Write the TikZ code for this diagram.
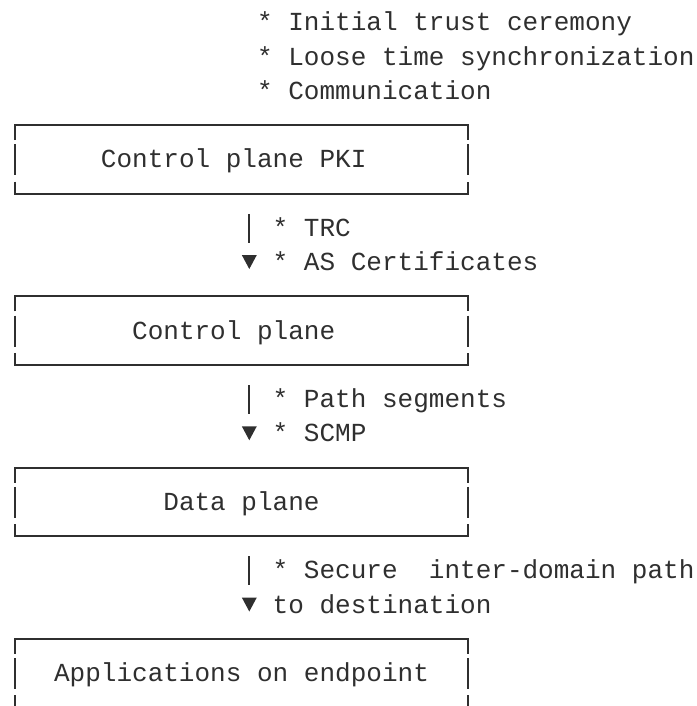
\documentclass[tikz,border=0pt]{standalone}
\usepackage{fontspec}
\newfontfamily\monofam{Liberation Mono}
\definecolor{ink}{HTML}{2F2F2F}
\tikzset{
  txt/.style={anchor=base west, inner sep=0pt, outer sep=0pt, text=ink, font=\monofam\fontsize{26.03}{30}\selectfont},
  edge/.style={draw=ink, line width=2pt, line cap=butt, line join=miter},
  tip/.style={fill=ink}
}
% column left edge and row baseline / centre
\newcommand{\cx}[1]{15+(#1-0.5)*15.62}
\newcommand{\rc}[1]{125+(#1)*34.25}
\newcommand{\rb}[1]{125+(#1)*34.25+8.55}
\begin{document}
\begin{tikzpicture}[x=1pt,y=-1pt]
\useasboundingbox (0,0) rectangle (696,706);
\clip (0,0) rectangle (696,706);
% top notes
\node[txt] (n1) at ({\cx{16}},{\rb{-3}}) {* Initial trust ceremony};
\node[txt] (n2) at ({\cx{16}},{\rb{-2}}) {* Loose time synchronization};
\node[txt] (n3) at ({\cx{16}},{\rb{-1}}) {* Communication};
% boxes
\foreach \t/\nm in {0/b1,5/b2,10/b3,15/b4}{
  \coordinate (\nm tl) at (15,{\rc{\t}});
  \coordinate (\nm tr) at (468,{\rc{\t}});
  \coordinate (\nm bl) at (15,{\rc{\t+2}});
  \coordinate (\nm br) at (468,{\rc{\t+2}});
  \draw[edge] ([yshift=-15pt]\nm tl) -- (\nm tl) -- (\nm tr) -- ([yshift=-15pt]\nm tr);
  \draw[edge] (15,{\rc{\t+1}-15}) -- (15,{\rc{\t+1}+16});
  \draw[edge] (468,{\rc{\t+1}-15}) -- (468,{\rc{\t+1}+16});
  \draw[edge] ([yshift=12pt]\nm bl) -- (\nm bl) -- (\nm br) -- ([yshift=12pt]\nm br);
}
\node[txt] (t1) at ({\cx{6}},{\rb{1}}) {Control plane PKI};
\node[txt] (t2) at ({\cx{8}},{\rb{6}}) {Control plane};
\node[txt] (t3) at ({\cx{10}},{\rb{11}}) {Data plane};
\node[txt] (t4) at ({\cx{3}},{\rb{16}}) {Applications on endpoint};
% arrows between boxes
\foreach \r/\nm in {3/a1,8/a2,13/a3}{
  \coordinate (\nm s) at ({15+15*15.62},{\rc{\r}-14});
  \coordinate (\nm e) at ({15+15*15.62},{\rc{\r}+15});
  \draw[edge] (\nm s) -- (\nm e);
  \fill[tip] ({15+15*15.62-7.5},{\rc{\r+1}-7}) -- ({15+15*15.62+7.5},{\rc{\r+1}-7}) -- ({15+15*15.62},{\rc{\r+1}+7}) -- cycle;
}
% arrow labels
\node[txt] (l1) at ({\cx{17}},{\rb{3}}) {* TRC};
\node[txt] (l2) at ({\cx{17}},{\rb{4}}) {* AS Certificates};
\node[txt] (l3) at ({\cx{17}},{\rb{8}}) {* Path segments};
\node[txt] (l4) at ({\cx{17}},{\rb{9}}) {* SCMP};
\node[txt] (l5) at ({\cx{17}},{\rb{13}}) {* Secure~~inter-domain path};
\node[txt] (l6) at ({\cx{17}},{\rb{14}}) {to destination};
\end{tikzpicture}
\end{document}
